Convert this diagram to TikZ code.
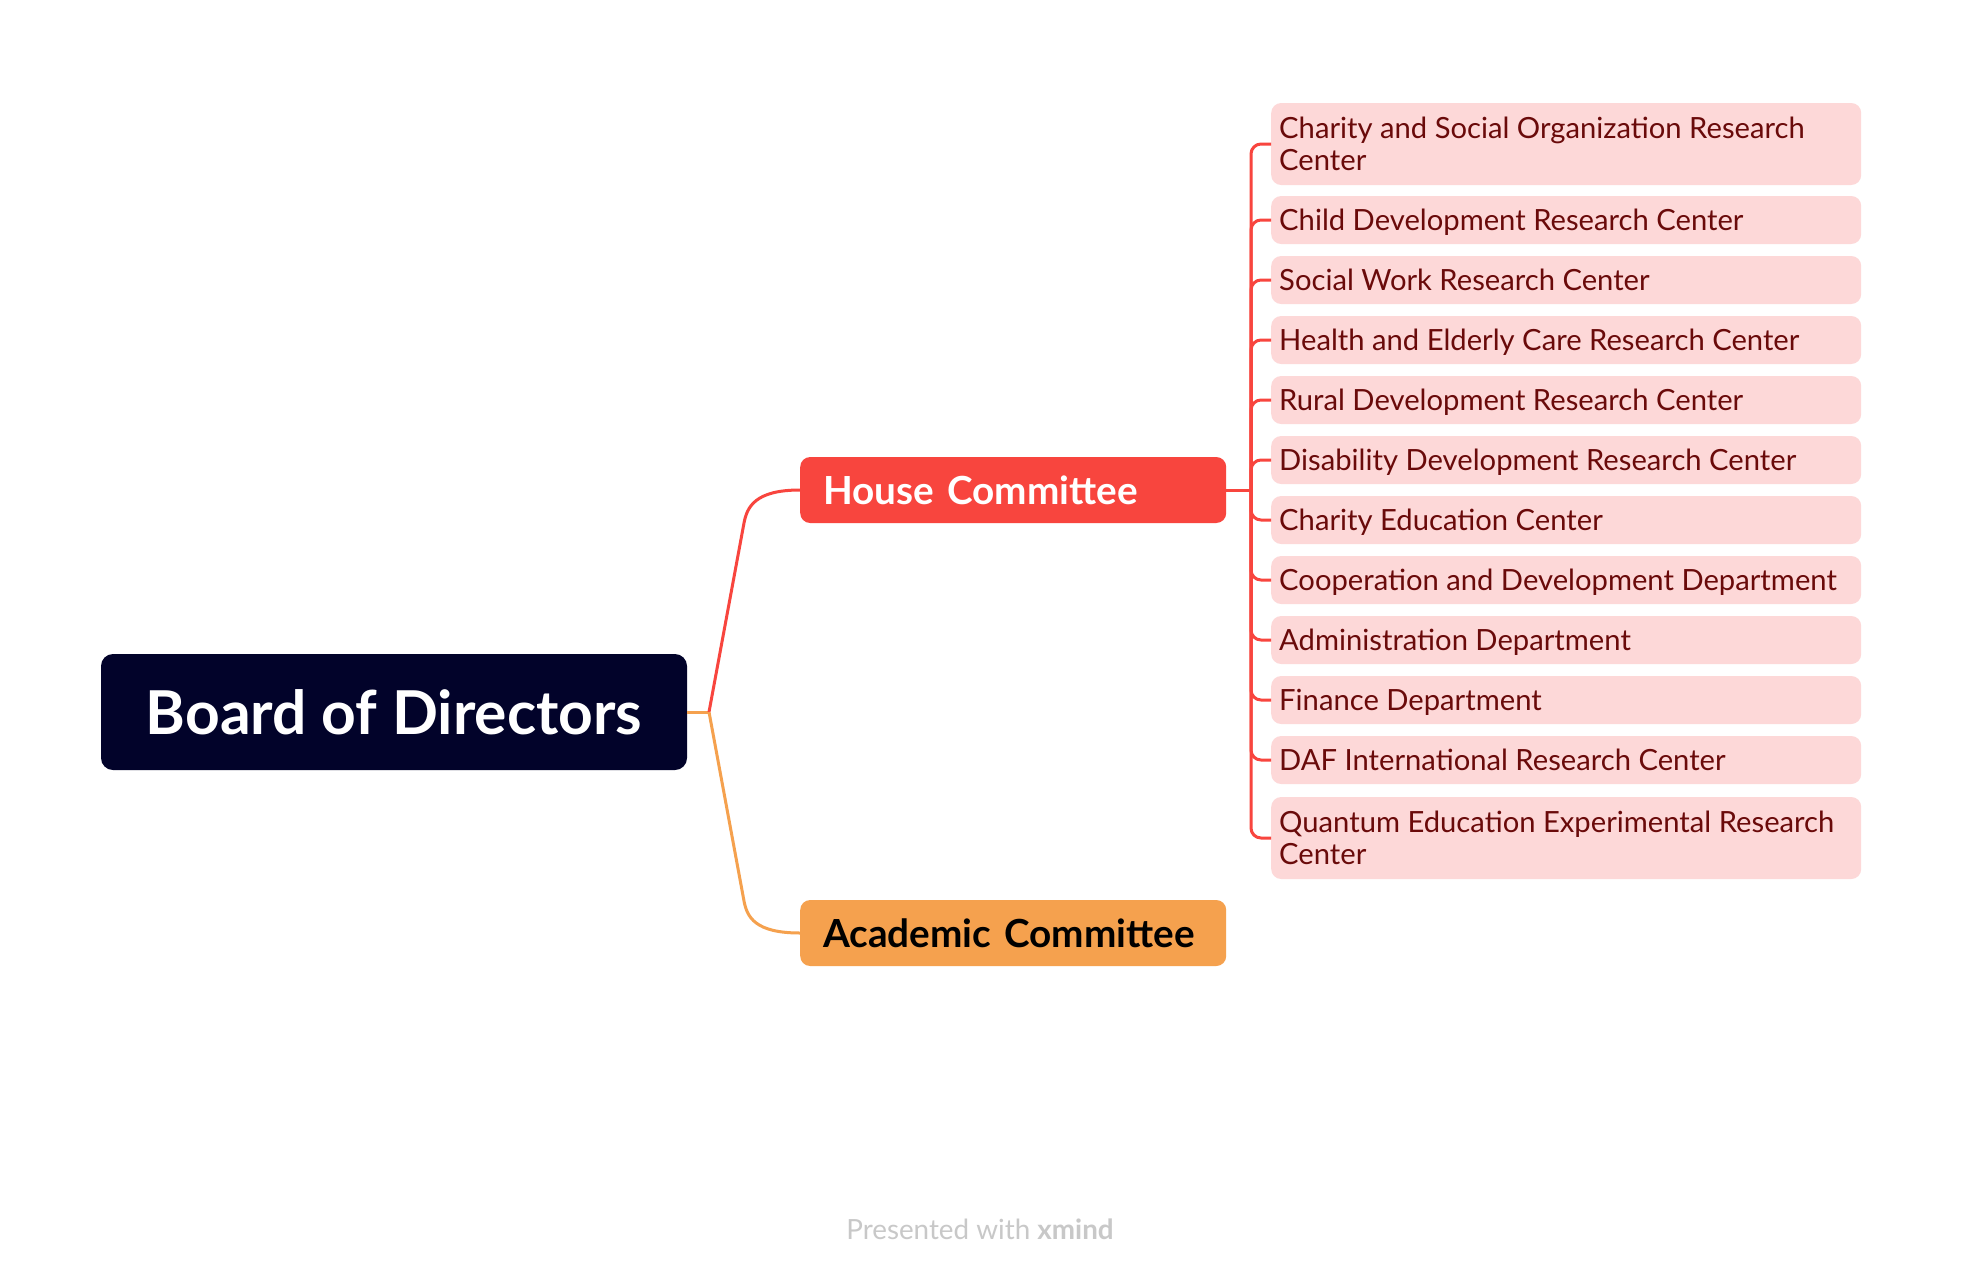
\documentclass[tikz,border=0pt]{standalone}
\usepackage{fontspec}
\setmainfont{Lato}
\definecolor{navy}{HTML}{02032A}
\definecolor{hred}{HTML}{F8453E}
\definecolor{aorange}{HTML}{F5A14E}
\definecolor{pink}{HTML}{FDD8D8}
\definecolor{dred}{HTML}{6A0A0A}
\definecolor{foot}{HTML}{C8C8C8}
\newcommand{\kidtext}[1]{\raisebox{-4pt}[\height][\depth]{\makebox[574pt][l]{\begin{tabular}{@{}l@{}}#1\end{tabular}}}}
\begin{document}
\begin{tikzpicture}[x=1pt,y=-1pt,
  rootbox/.style={fill=navy, rounded corners=12pt, minimum width=586pt, minimum height=116pt,
    text=white, inner sep=0pt, font=\fontsize{60.5}{64}\selectfont\bfseries},
  combox/.style={rounded corners=10pt, minimum height=66pt, inner xsep=23pt, inner ysep=0pt,
    text width=380pt, align=left, anchor=west, font=\fontsize{38.7}{42}\selectfont\bfseries},
  kid/.style={fill=pink, text=dred, rounded corners=10pt, inner xsep=8pt, inner ysep=0pt,
    minimum width=590pt, anchor=west, minimum height=48pt,
    font=\fontsize{29.2}{32.5}\selectfont},
  kid2/.style={kid, minimum height=82pt},
  rline/.style={draw=hred, line width=3pt},
  oline/.style={draw=aorange, line width=3pt}]
\useasboundingbox[fill=white] (0,0) rectangle (1962,1280);

\node[rootbox] (root) at (394,712) {Board of Directors};
\node[combox, fill=hred, text=white] (house) at (800,490) {House Committee};
\node[combox, fill=aorange, text=black] (acad) at (800,933) {Academic Committee};

\coordinate (jn) at (709,712);
\draw[oline] (root.east) -- (jn);
\draw[rline] (jn) -- (744,523) .. controls (747,507) and (755,490) .. (house.west);
\draw[oline] (jn) -- (744,901) .. controls (747,917) and (755,933) .. (acad.west);

\node[kid2] (c1) at (1271,144) {\kidtext{Charity and Social Organization Research\\Center}};
\node[kid] (c2) at (1271,220) {\kidtext{Child Development Research Center}};
\node[kid] (c3) at (1271,280) {\kidtext{Social Work Research Center}};
\node[kid] (c4) at (1271,340) {\kidtext{Health and Elderly Care Research Center}};
\node[kid] (c5) at (1271,400) {\kidtext{Rural Development Research Center}};
\node[kid] (c6) at (1271,460) {\kidtext{Disability Development Research Center}};
\node[kid] (c7) at (1271,520) {\kidtext{Charity Education Center}};
\node[kid] (c8) at (1271,580) {\kidtext{Cooperation and Development Department}};
\node[kid] (c9) at (1271,640) {\kidtext{Administration Department}};
\node[kid] (c10) at (1271,700) {\kidtext{Finance Department}};
\node[kid] (c11) at (1271,760) {\kidtext{DAF International Research Center}};
\node[kid2] (c12) at (1271,838) {\kidtext{Quantum Education Experimental Research\\Center}};

\coordinate (sp) at (1251,490);
\draw[rline] (house.east) -- (sp);
\foreach \c in {c1,c2,c3,c4,c5,c6,c7,c8,c9,c10,c11,c12}
  \draw[rline, rounded corners=10pt] (sp) |- (\c.west);

\node[text=foot, font=\fontsize{27.8}{30}\selectfont] (footer) at (980,1229) {Presented with \textbf{xmind}};
\end{tikzpicture}
\end{document}
